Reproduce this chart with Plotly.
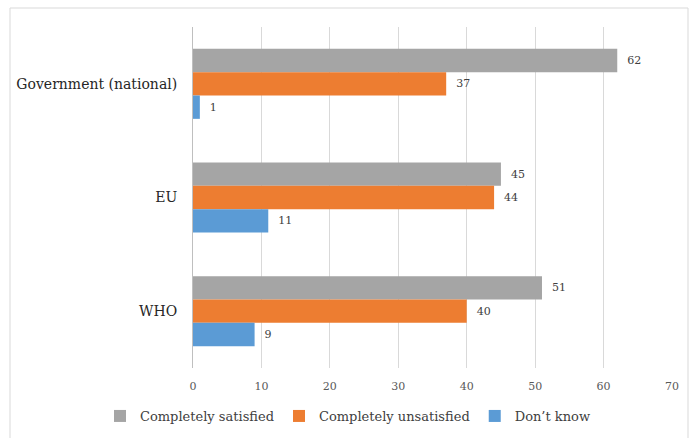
import plotly.graph_objects as go

categories = ["Government (national)", "EU", "WHO"]
series_names = ["Completely satisfied", "Completely unsatisfied", "Don\u2019t know"]
satisfied = [62, 45, 51]
unsatisfied = [37, 44, 40]
dont_know = [1, 11, 9]
colors = ["#A5A5A5", "#ED7D31", "#5B9BD5"]
x_ticks = [0, 10, 20, 30, 40, 50, 60, 70]

W, H = 691, 438
L, R, T, B = 193, 19, 27, 70
pw, ph = W - L - R, H - T - B
SERIF = "DejaVu Serif"

fig = go.Figure()
for name, vals, col in zip(series_names, [satisfied, unsatisfied, dont_know], colors):
    fig.add_trace(go.Bar(
        y=categories, x=vals, name=name, orientation="h",
        marker=dict(color=col, line=dict(width=0)),
        texttemplate="\u00a0\u00a0%{x}", textposition="outside",
        textfont=dict(family=SERIF, size=11, color="#404040"),
        cliponaxis=False,
    ))

def px2x(px):
    return (px - L) / pw

def px2y(py):
    return (H - B - py) / ph

fig.update_layout(
    width=W, height=H,
    margin=dict(l=L, r=R, t=T, b=B, pad=0, autoexpand=False),
    paper_bgcolor="white", plot_bgcolor="white",
    barmode="group", bargap=0.384, bargroupgap=0,
    font=dict(family=SERIF, color="#404040"),
    xaxis=dict(range=[0, 70], tickvals=x_ticks, showgrid=True, gridcolor="#D9D9D9",
               gridwidth=1, zeroline=False, showline=False, ticks="",
               tickfont=dict(family=SERIF, size=11, color="#595959"), ticklabelstandoff=10),
    yaxis=dict(autorange="reversed", showline=True, linecolor="#BFBFBF", linewidth=1,
               ticks="", tickfont=dict(family=SERIF, size=14, color="#262626"),
               ticklabelstandoff=12, showgrid=False),
    showlegend=True,
    legend=dict(orientation="h", x=px2x(100), xanchor="left", y=px2y(416), yanchor="middle",
                font=dict(family=SERIF, size=13, color="#404040"), traceorder="normal",
                itemwidth=30),
    shapes=[dict(type="rect", xref="paper", yref="paper",
                 x0=px2x(10), x1=px2x(688), y0=px2y(460), y1=px2y(8),
                 line=dict(color="#D9D9D9", width=1), layer="below")],
)

fig.write_html("out.html")
